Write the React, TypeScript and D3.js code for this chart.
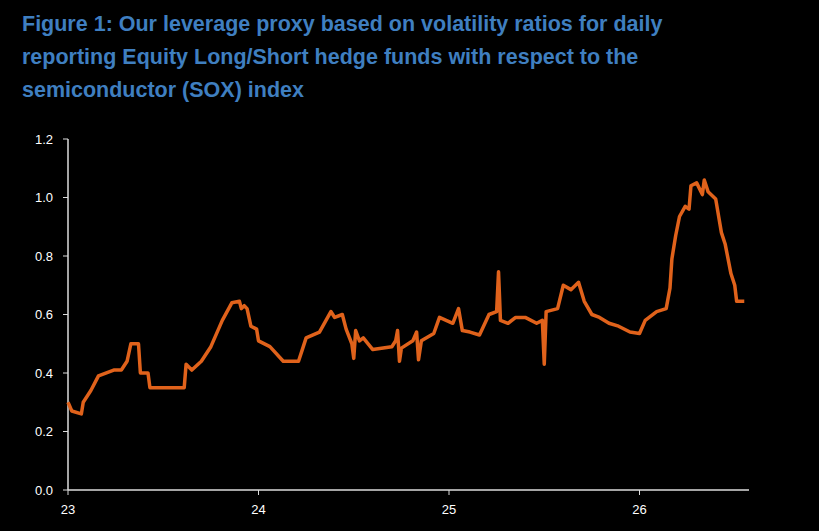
import React, { useEffect, useRef } from "react";
import * as d3 from "d3";

const years = [23.0,23.02,23.07,23.08,23.12,23.16,23.24,23.28,23.31,23.33,23.37,23.38,23.42,23.43,23.5,23.57,23.61,23.62,23.65,23.7,23.75,23.81,23.86,23.9,23.91,23.925,23.94,23.96,23.99,24.0,24.06,24.13,24.21,24.23,24.25,24.32,24.38,24.4,24.44,24.46,24.49,24.5,24.51,24.53,24.55,24.6,24.7,24.72,24.73,24.74,24.75,24.81,24.83,24.84,24.855,24.92,24.95,25.02,25.05,25.07,25.11,25.16,25.21,25.25,25.26,25.27,25.31,25.35,25.4,25.46,25.49,25.5,25.51,25.57,25.6,25.64,25.68,25.71,25.75,25.79,25.84,25.89,25.95,26.0,26.03,26.09,26.14,26.16,26.17,26.19,26.21,26.24,26.26,26.27,26.3,26.33,26.34,26.36,26.4,26.43,26.45,26.48,26.5,26.51,26.55];
const values = [0.30,0.27,0.26,0.30,0.34,0.39,0.41,0.41,0.44,0.50,0.50,0.40,0.40,0.35,0.35,0.35,0.35,0.43,0.41,0.44,0.49,0.58,0.64,0.645,0.62,0.63,0.62,0.56,0.55,0.51,0.49,0.44,0.44,0.48,0.52,0.54,0.61,0.59,0.60,0.55,0.50,0.45,0.545,0.51,0.52,0.48,0.49,0.51,0.545,0.44,0.485,0.51,0.54,0.445,0.51,0.535,0.59,0.57,0.62,0.545,0.54,0.53,0.60,0.61,0.746,0.58,0.57,0.59,0.59,0.57,0.58,0.43,0.61,0.62,0.70,0.685,0.71,0.645,0.60,0.59,0.57,0.56,0.54,0.535,0.58,0.61,0.62,0.69,0.79,0.87,0.935,0.97,0.96,1.04,1.05,1.01,1.06,1.02,0.995,0.88,0.84,0.74,0.70,0.645,0.645];
const yTicks = [0, 0.2, 0.4, 0.6, 0.8, 1.0, 1.2];
const xTicks = [23, 24, 25, 26];
const titleLines = [
  "Figure 1: Our leverage proxy based on volatility ratios for daily",
  "reporting Equity Long/Short hedge funds with respect to the",
  "semiconductor (SOX) index",
];

export default function App() {
  const ref = useRef<SVGSVGElement>(null);
  useEffect(() => {
    const svg = d3.select(ref.current);
    svg.selectAll("*").remove();
    const W = 819, H = 531;
    svg.append("rect").attr("width", W).attr("height", H).attr("fill", "#000");
    svg.selectAll("text.title").data(titleLines).enter().append("text")
      .attr("x", 22).attr("y", (_, i) => 31 + i * 33)
      .attr("fill", "#3f7fc0").attr("font-family", "Liberation Sans, Arial, sans-serif")
      .attr("font-weight", "bold").attr("font-size", 21.5).text(d => d);
    const x = d3.scaleLinear().domain([23, 23 + (749 - 68) / 190.5]).range([68, 749]);
    const y = d3.scaleLinear().domain([0, 1.2]).range([490, 139]);
    const ga = svg.append("g").attr("font-family", "Liberation Sans, Arial, sans-serif");
    ga.append("line").attr("x1", 68).attr("x2", 68).attr("y1", 139).attr("y2", 490).attr("stroke", "#ddd").attr("stroke-width", 1.5);
    ga.append("line").attr("x1", 68).attr("x2", 749).attr("y1", 490).attr("y2", 490).attr("stroke", "#ddd").attr("stroke-width", 1.5);
    yTicks.forEach(t => {
      ga.append("line").attr("x1", 63).attr("x2", 68).attr("y1", y(t)).attr("y2", y(t)).attr("stroke", "#ddd");
      ga.append("text").attr("x", 53).attr("y", y(t) + 4.5).attr("text-anchor", "end").attr("fill", "#fff").attr("font-size", 13).text(t.toFixed(1));
    });
    xTicks.forEach(t => {
      ga.append("line").attr("x1", x(t)).attr("x2", x(t)).attr("y1", 490).attr("y2", 495).attr("stroke", "#ddd");
      ga.append("text").attr("x", x(t)).attr("y", 514).attr("text-anchor", "middle").attr("fill", "#fff").attr("font-size", 13).text(String(t));
    });
    const line = d3.line<number>().x((_, i) => x(years[i])).y(d => y(d));
    svg.append("path").attr("d", line(values)).attr("fill", "none").attr("stroke", "#e0621b")
      .attr("stroke-width", 3.5).attr("stroke-linejoin", "round");
  }, []);
  return <svg ref={ref} width={819} height={531} style={{ display: "block", position: "absolute", left: 0, top: 0 }} />;
}
